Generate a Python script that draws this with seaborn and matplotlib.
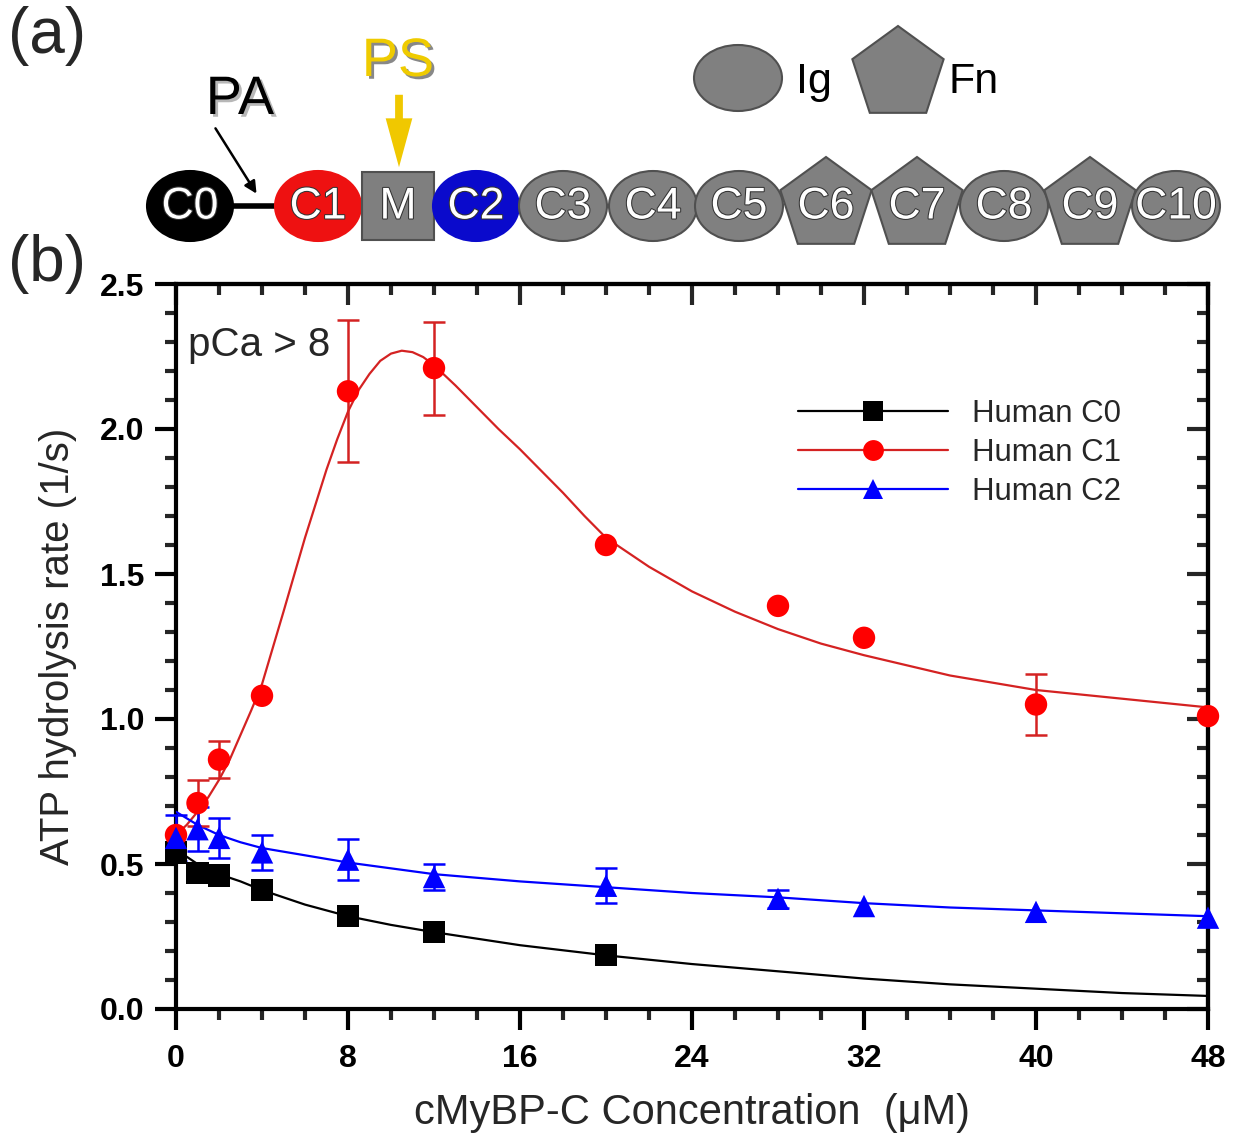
import numpy as np
import pandas as pd
import seaborn as sns
import matplotlib
matplotlib.use("Agg")
import matplotlib.pyplot as plt
from matplotlib.patches import Ellipse, Rectangle, Polygon, FancyArrowPatch
from matplotlib.lines import Line2D
from matplotlib.ticker import MultipleLocator
import matplotlib.patheffects as pe

# ---------------- data ----------------
x_c0 = [0, 1, 2, 4, 8, 12, 20]
y_c0 = [0.54, 0.47, 0.46, 0.41, 0.32, 0.265, 0.186]

x_c1 = [0, 1, 2, 4, 8, 12, 20, 28, 32, 40, 48]
y_c1 = [0.60, 0.71, 0.86, 1.08, 2.13, 2.21, 1.60, 1.39, 1.28, 1.05, 1.01]
e_c1 = [0.0, 0.08, 0.065, 0.0, 0.245, 0.16, 0.0, 0.0, 0.0, 0.105, 0.0]

x_c2 = [0, 1, 2, 4, 8, 12, 20, 28, 32, 40, 48]
y_c2 = [0.59, 0.62, 0.59, 0.54, 0.515, 0.455, 0.425, 0.38, 0.355, 0.335, 0.315]
e_c2 = [0.08, 0.075, 0.07, 0.06, 0.07, 0.045, 0.06, 0.03, 0.0, 0.0, 0.0]

fit_x_c0 = [0, 1, 2, 3, 4, 6, 8, 10, 12, 16, 20, 24, 28, 32, 36, 40, 44, 48]
fit_y_c0 = [0.55, 0.50, 0.465, 0.44, 0.41, 0.36, 0.32, 0.29, 0.265, 0.22, 0.185,
            0.155, 0.13, 0.105, 0.085, 0.07, 0.055, 0.045]

fit_x_c1 = [0, 0.5, 1, 1.5, 2, 2.5, 3, 3.5, 4, 5, 6, 7, 7.5, 8, 8.5, 9, 9.5, 10, 10.5,
            11, 11.5, 12, 12.5, 13, 14, 15, 16, 17, 18, 19, 20, 22, 24, 26, 28, 30,
            32, 36, 40, 44, 48]
fit_y_c1 = [0.60, 0.635, 0.68, 0.73, 0.79, 0.86, 0.945, 1.03, 1.12, 1.37, 1.625,
            1.86, 1.965, 2.06, 2.135, 2.19, 2.235, 2.26, 2.27, 2.265, 2.248, 2.22,
            2.185, 2.15, 2.075, 2.00, 1.93, 1.855, 1.78, 1.70, 1.625, 1.525, 1.44,
            1.37, 1.31, 1.26, 1.22, 1.15, 1.10, 1.07, 1.04]

fit_x_c2 = [0, 1, 2, 3, 4, 6, 8, 10, 12, 16, 20, 24, 28, 32, 36, 40, 44, 48]
fit_y_c2 = [0.68, 0.635, 0.60, 0.575, 0.555, 0.53, 0.505, 0.485, 0.465, 0.44, 0.42,
            0.40, 0.385, 0.365, 0.35, 0.34, 0.33, 0.32]

series_names = ["Human C0", "Human C1", "Human C2"]
x_ticks = [0, 8, 16, 24, 32, 40, 48]
y_ticks = [0.0, 0.5, 1.0, 1.5, 2.0, 2.5]

domain_labels = ["C0", "C1", "M", "C2", "C3", "C4", "C5", "C6", "C7", "C8", "C9", "C10"]
domain_kinds = ["ig", "ig", "m", "ig", "ig", "ig", "ig", "fn", "fn", "ig", "fn", "ig"]
domain_colors = ["#000000", "#EE1111", "#7f7f7f", "#0a0acc", "#808080", "#808080",
                 "#808080", "#808080", "#808080", "#808080", "#808080", "#808080"]

# ---------------- style ----------------
sns.set_theme(style="ticks")
plt.rcParams["font.family"] = ["Liberation Sans", "DejaVu Sans"]

RED = "#FF0000"
RED_LINE = "#D42222"
BLUE = "#0000FF"
BLACK = "#000000"

fig = plt.figure(figsize=(12.41, 11.34), dpi=100)

# ---- diagram layer (pixel coordinates) ----
dax = fig.add_axes([0, 0, 1, 1], zorder=0)
dax.set_xlim(0, 1241)
dax.set_ylim(1134, 0)
dax.axis("off")

cy = 206
centers = [190, 318, 398, 476, 563, 653, 739, 826, 917, 1004, 1090, 1176]
txt_fx = [pe.withStroke(linewidth=1.5, foreground="#333333")]


def pentagon(cx, cyy, r):
    ang = np.deg2rad(-90 + 72 * np.arange(5))
    return np.column_stack([cx + r * np.cos(ang) * 1.0, cyy + r * np.sin(ang)])


# connecting line C0-C1
dax.plot([220, 285], [cy, cy], color="black", lw=4, zorder=1)
for lab, kind, col, cx in zip(domain_labels, domain_kinds, domain_colors, centers):
    if kind == "ig":
        w = 86 if lab in ("C0", "C1", "C2") else 88
        p = Ellipse((cx, cy), w, 70, facecolor=col, edgecolor="#505050" if col == "#808080" else col,
                    lw=1.5, zorder=2)
    elif kind == "m":
        p = Rectangle((cx - 36, cy - 34), 72, 68, facecolor=col, edgecolor="#505050", lw=1.5, zorder=2)
    else:
        p = Polygon(pentagon(cx, cy - 1, 48), closed=True, facecolor=col, edgecolor="#505050",
                    lw=1.5, zorder=2)
    dax.add_patch(p)
    dax.text(cx, cy + 1, lab, color="white", fontsize=32, ha="center", va="center",
             zorder=3, path_effects=txt_fx)

# legend shapes of diagram
dax.add_patch(Ellipse((738, 78), 88, 66, facecolor="#808080", edgecolor="#505050", lw=1.5))
dax.text(796, 82, "Ig", fontsize=31, ha="left", va="center", color="black")
dax.add_patch(Polygon(pentagon(898, 74, 48), closed=True, facecolor="#808080",
                      edgecolor="#505050", lw=1.5))
dax.text(949, 82, "Fn", fontsize=31, ha="left", va="center", color="black")

# PA label + arrow
dax.text(240, 100, "PA", fontsize=39, ha="center", va="center", color="black",
         path_effects=[pe.withSimplePatchShadow(offset=(2, -2), shadow_rgbFace="#999999", alpha=0.7)])
dax.add_patch(FancyArrowPatch((214, 126), (258, 196), arrowstyle="-|>", mutation_scale=18,
                              color="black", lw=1.8))
# PS label + arrow
dax.text(398, 62, "PS", fontsize=39, ha="center", va="center", color="#EFCB00",
         path_effects=[pe.withSimplePatchShadow(offset=(2, -2), shadow_rgbFace="#6b6b6b", alpha=0.8)])
dax.add_patch(FancyArrowPatch((399, 92), (399, 170), arrowstyle="simple,head_width=1.2,head_length=2.2,tail_width=0.35",
                              mutation_scale=16, color="#F0C800", lw=0))

dax.text(8, 36, "(a)", fontsize=46, ha="left", va="center")
dax.text(8, 264, "(b)", fontsize=46, ha="left", va="center")

# ---------------- main chart ----------------
ax = fig.add_axes([176 / 1241, 1 - 1009 / 1134, (1208 - 176) / 1241, (1009 - 284) / 1134], zorder=2)
ax.set_facecolor("white")

df_fit = pd.concat([
    pd.DataFrame({"x": fit_x_c0, "y": fit_y_c0, "s": series_names[0]}),
    pd.DataFrame({"x": fit_x_c1, "y": fit_y_c1, "s": series_names[1]}),
    pd.DataFrame({"x": fit_x_c2, "y": fit_y_c2, "s": series_names[2]}),
])
sns.lineplot(data=df_fit, x="x", y="y", hue="s", palette=[BLACK, RED_LINE, BLUE],
             linewidth=1.6, legend=False, ax=ax, zorder=3)

# error bars
for xs, ys, es, col in [(x_c1, y_c1, e_c1, RED_LINE), (x_c2, y_c2, e_c2, BLUE)]:
    xs_a = np.array(xs, float); ys_a = np.array(ys, float); es_a = np.array(es, float)
    m = es_a > 0
    ax.errorbar(xs_a[m], ys_a[m], yerr=es_a[m], fmt="none", ecolor=col, elinewidth=1.8,
                capsize=8, capthick=1.8, zorder=4, clip_on=False)

df_pts = pd.concat([
    pd.DataFrame({"x": x_c0, "y": y_c0, "s": series_names[0]}),
    pd.DataFrame({"x": x_c1, "y": y_c1, "s": series_names[1]}),
    pd.DataFrame({"x": x_c2, "y": y_c2, "s": series_names[2]}),
])
sns.scatterplot(data=df_pts, x="x", y="y", hue="s", style="s",
                palette=[BLACK, RED, BLUE], markers=["s", "o", "^"],
                s=260, linewidth=0, legend=False, ax=ax, zorder=5, clip_on=False)

ax.set_xlim(0, 48)
ax.set_ylim(0, 2.5)
ax.set_xticks(x_ticks)
ax.set_yticks(y_ticks)
ax.set_yticklabels([f"{v:.1f}" for v in y_ticks])
ax.xaxis.set_minor_locator(MultipleLocator(2))
ax.yaxis.set_minor_locator(MultipleLocator(0.1))
ax.tick_params(which="major", direction="out", length=15, width=3, labelsize=23, pad=8,
               colors="black")
ax.tick_params(axis="x", which="major", pad=10)
ax.tick_params(which="minor", direction="out", length=8, width=3)
for lab in ax.get_xticklabels() + ax.get_yticklabels():
    lab.set_fontweight("bold")
for sp in ax.spines.values():
    sp.set_visible(True)
    sp.set_linewidth(3)
    sp.set_color("black")

secx = ax.secondary_xaxis("top")
secx.set_xticks(x_ticks)
secx.xaxis.set_minor_locator(MultipleLocator(2))
secx.tick_params(which="major", direction="in", length=15, width=3, labeltop=False)
secx.tick_params(which="minor", direction="in", length=8, width=3)
secy = ax.secondary_yaxis("right")
secy.set_yticks(y_ticks)
secy.yaxis.set_minor_locator(MultipleLocator(0.1))
secy.tick_params(which="major", direction="in", length=15, width=3, labelright=False)
secy.tick_params(which="minor", direction="in", length=8, width=3)
for s in (secx, secy):
    for sp in s.spines.values():
        sp.set_linewidth(3)

ax.set_xlabel("cMyBP-C Concentration  (\u03bcM)", fontsize=30, labelpad=14)
ax.set_ylabel("ATP hydrolysis rate (1/s)", fontsize=29, labelpad=16)

ax.text(0.55, 2.29, "pCa > 8", fontsize=29, ha="left", va="center")

handles = [
    Line2D([0], [0], color=BLACK, lw=1.6, marker="s", markersize=14, markerfacecolor=BLACK, markeredgewidth=0),
    Line2D([0], [0], color=RED_LINE, lw=1.6, marker="o", markersize=15, markerfacecolor=RED, markeredgewidth=0),
    Line2D([0], [0], color=BLUE, lw=1.6, marker="^", markersize=15, markerfacecolor=BLUE, markeredgewidth=0),
]
ax.legend(handles, series_names, loc="upper left", bbox_to_anchor=(0.603, 0.842), frameon=False,
          fontsize=22.5, handlelength=4.8, handletextpad=0.75, labelspacing=0.3,
          borderaxespad=0, borderpad=0)

fig.savefig("out.png", dpi=100, facecolor="white")
